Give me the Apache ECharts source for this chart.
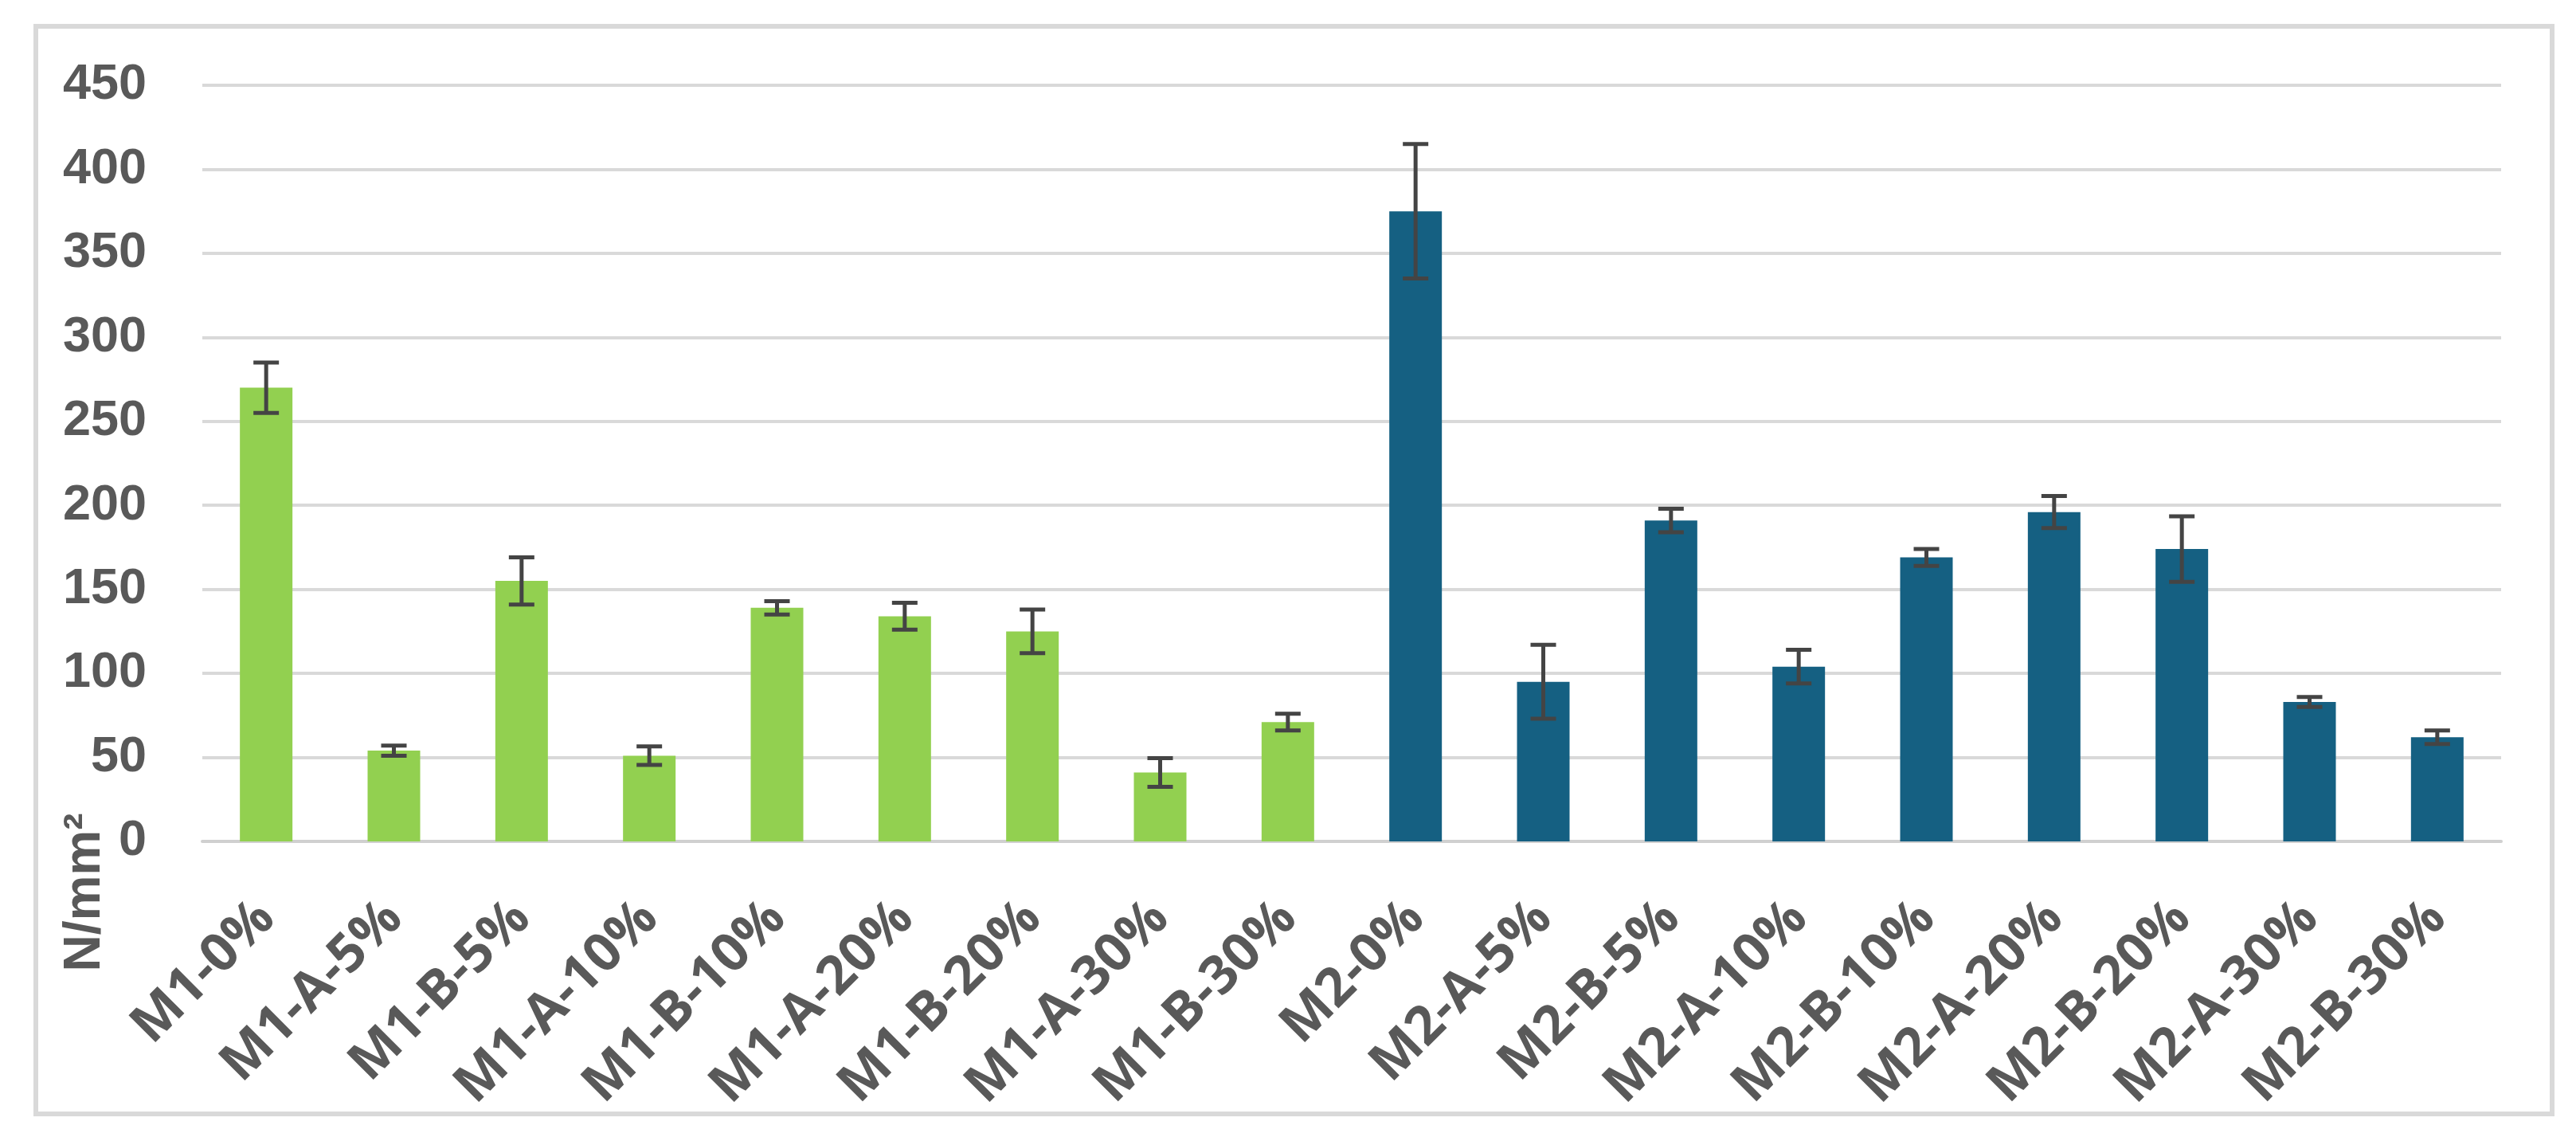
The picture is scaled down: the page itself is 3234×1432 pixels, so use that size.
<!DOCTYPE html>
<html>
<head>
<meta charset="utf-8">
<script src="https://cdn.jsdelivr.net/npm/echarts@6/dist/echarts.min.js"></script>
<style>
html,body{margin:0;padding:0;background:#fff;}
#chart{width:3234px;height:1432px;}
</style>
</head>
<body>
<div id="chart"></div>
<script>
const categories = ['M1-0%','M1-A-5%','M1-B-5%','M1-A-10%','M1-B-10%','M1-A-20%','M1-B-20%','M1-A-30%','M1-B-30%',
                    'M2-0%','M2-A-5%','M2-B-5%','M2-A-10%','M2-B-10%','M2-A-20%','M2-B-20%','M2-A-30%','M2-B-30%'];
const values = [270, 54, 155, 51, 139, 134, 125, 41, 71, 375, 95, 191, 104, 169, 196, 174, 83, 62];
const errors = [15, 3, 14, 5.5, 4, 8, 13, 8.5, 5, 40, 22, 7, 10, 5, 9.5, 19.5, 3, 4];
const yTicks = [0, 50, 100, 150, 200, 250, 300, 350, 400, 450];
const yTitle = 'N/mm\u00B2';

const groupColors = { M1: '#92D050', M2: '#156082' };

const chart = echarts.init(document.getElementById('chart'));

const barData = values.map((v, i) => ({
  value: v,
  itemStyle: { color: groupColors[categories[i].slice(0, 2)] }
}));
const errData = values.map((v, i) => [i, v - errors[i], v + errors[i]]);

chart.setOption({
  animation: false,
  backgroundColor: '#ffffff',
  grid: { left: 254, right: 94, top: 107, bottom: 376, containLabel: false },
  graphic: [
    {
      type: 'rect',
      shape: { x: 45, y: 33, width: 3159, height: 1365 },
      style: { fill: 'none', stroke: '#d9d9d9', lineWidth: 6 },
      silent: true
    },
    {
      type: 'text',
      x: 107, y: 1120,
      rotation: Math.PI / 2,
      style: {
        text: yTitle,
        fontFamily: '"Liberation Sans", Arial, sans-serif',
        fontWeight: 'bold',
        fontSize: 64,
        fill: '#595959',
        align: 'center',
        verticalAlign: 'middle'
      }
    }
  ],
  xAxis: {
    type: 'category',
    data: categories,
    axisLine: { show: true, lineStyle: { color: '#d0d0d0', width: 4 } },
    axisTick: { show: false },
    axisLabel: {
      rotate: 45,
      interval: 0,
      margin: 86,
      color: '#595959',
      fontFamily: '"Open Sans", sans-serif',
      fontWeight: 'bold',
      fontSize: 67
    },
    splitLine: { show: false }
  },
  yAxis: {
    type: 'value',
    min: yTicks[0],
    max: yTicks[yTicks.length - 1],
    interval: 50,
    axisLine: { show: false },
    axisTick: { show: false },
    axisLabel: {
      margin: 70,
      color: '#595959',
      fontFamily: '"Liberation Sans", Arial, sans-serif',
      fontWeight: 'bold',
      fontSize: 63
    },
    splitLine: { show: true, lineStyle: { color: '#d9d9d9', width: 4 } }
  },
  series: [
    {
      type: 'bar',
      data: barData,
      barWidth: 66,
      z: 2
    },
    {
      type: 'custom',
      data: errData,
      z: 5,
      renderItem: function (params, api) {
        const x = api.value(0);
        const lo = api.coord([x, api.value(1)]);
        const hi = api.coord([x, api.value(2)]);
        const cap = 16;
        const style = { stroke: '#444444', lineWidth: 5 };
        return {
          type: 'group',
          children: [
            { type: 'line', shape: { x1: lo[0], y1: lo[1], x2: hi[0], y2: hi[1] }, style: style },
            { type: 'line', shape: { x1: hi[0] - cap, y1: hi[1], x2: hi[0] + cap, y2: hi[1] }, style: style },
            { type: 'line', shape: { x1: lo[0] - cap, y1: lo[1], x2: lo[0] + cap, y2: lo[1] }, style: style }
          ]
        };
      }
    }
  ]
});
</script>
</body>
</html>
